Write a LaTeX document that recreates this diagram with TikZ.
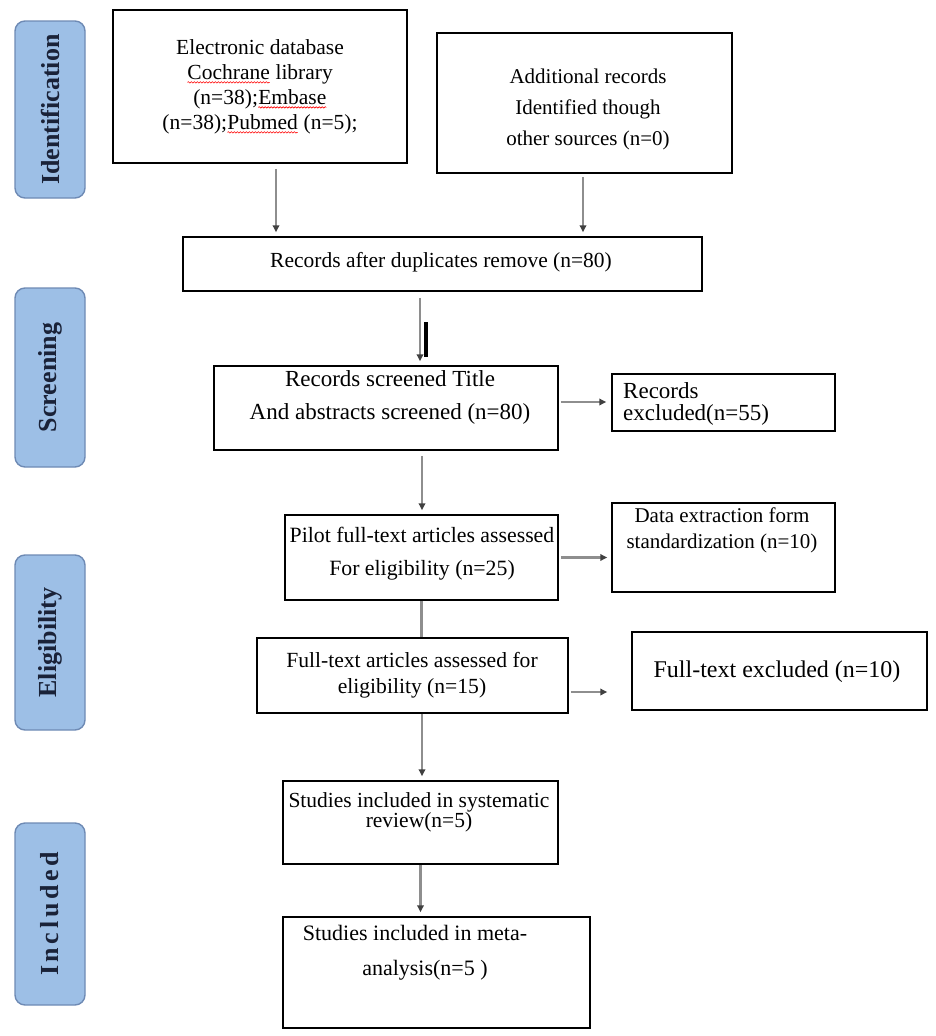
\documentclass[tikz,border=0pt]{standalone}
\usepackage{fontspec}
\setmainfont{Liberation Serif}
\usetikzlibrary{arrows.meta,decorations.pathmorphing}
\definecolor{lblfill}{HTML}{9DBFE6}
\definecolor{lbldraw}{HTML}{6E8AB4}
\definecolor{lbltext}{HTML}{1A2238}
\definecolor{arrgray}{HTML}{8E8E8E}
\newcommand\spellmark[1]{\tikz[baseline=(w.base)]{\node[inner sep=0pt,outer sep=0pt] (w) {#1};
  \draw[red,line width=0.6pt,decorate,decoration={snake,amplitude=0.7pt,segment length=3pt}]
    ([yshift=-2.5pt]w.south west) -- ([yshift=-2.5pt]w.south east);}}
\begin{document}
\begin{tikzpicture}[x=1pt,y=-1pt,
  box/.style={draw=black,line width=1.5pt,inner sep=0pt},
  txt/.style={inner sep=0pt,align=center},
  lbl/.style={draw=lbldraw,fill=lblfill,line width=1.4pt,rounded corners=10pt,
    inner sep=0pt,rotate=90,text=lbltext,font=\bfseries\fontsize{26}{26}\selectfont},
  arr/.style={draw=arrgray,line width=2.1pt,-{Triangle[length=7pt,width=6.5pt,color=black!75]}},
  plainline/.style={draw=arrgray,line width=2.1pt}]
\useasboundingbox (0,0) rectangle (935,1036);

% side labels
\node[lbl,minimum width=177pt,minimum height=70pt] (Lid) at (50,109.5) {Identification};
\node[lbl,minimum width=179pt,minimum height=70pt] (Lsc) at (50,377.5) {Screening};
\node[lbl,minimum width=175pt,minimum height=70pt] (Lel) at (50,642.5) {Eligibility};
\node[lbl,minimum width=182pt,minimum height=70pt] (Lin) at (50,914) {{\addfontfeature{LetterSpace=14}Included}};

% boxes
\node[box,minimum width=294pt,minimum height=153pt] (b1) at (260,86.5) {};
\node[box,minimum width=295pt,minimum height=140pt] (b2) at (584.5,103) {};
\node[box,minimum width=519pt,minimum height=54pt] (rec) at (442.5,264) {};
\node[box,minimum width=344pt,minimum height=84pt] (scr) at (386,408) {};
\node[box,minimum width=223pt,minimum height=57pt] (rex) at (723.5,402.5) {};
\node[box,minimum width=273pt,minimum height=85pt] (pil) at (421.5,557.5) {};
\node[box,minimum width=223pt,minimum height=89pt] (dex) at (723.5,547.5) {};
\node[box,minimum width=311pt,minimum height=75pt] (ft) at (412.5,675.5) {};
\node[box,minimum width=295pt,minimum height=78pt] (fex) at (779.5,671) {};
\node[box,minimum width=275pt,minimum height=83pt] (sys) at (420.5,822.5) {};
\node[box,minimum width=307pt,minimum height=111pt] (meta) at (436.5,972.5) {};

% texts
\node[txt,font=\fontsize{21.5}{25}\selectfont] (t1) at (260,87)
  {Electronic database\\\spellmark{Cochrane} library\\(n=38);\spellmark{Embase}\\(n=38);\spellmark{Pubmed} (n=5);};
\node[txt,font=\fontsize{21}{31}\selectfont] (t2) at (588,109)
  {Additional records\\Identified though\\other sources (n=0)};
\node[txt,font=\fontsize{21.5}{25}\selectfont] (t3) at (441,262)
  {Records after duplicates remove (n=80)};
\node[txt,font=\fontsize{23}{33}\selectfont] (t4) at (390,397)
  {Records screened Title\\And abstracts screened (n=80)};
\node[txt,align=left,anchor=west,font=\fontsize{23}{22}\selectfont] (t5) at (623,404)
  {Records\\excluded(n=55)};
\node[txt,font=\fontsize{21.8}{33}\selectfont] (t6) at (422,553.5)
  {Pilot full-text articles assessed\\For eligibility (n=25)};
\node[txt,font=\fontsize{21}{26}\selectfont] (t7) at (722,530)
  {Data extraction form\\standardization (n=10)};
\node[txt,font=\fontsize{21.6}{26}\selectfont] (t8) at (412,675)
  {Full-text articles assessed for\\eligibility (n=15)};
\node[txt,font=\fontsize{24}{28}\selectfont] (t9) at (777,672)
  {Full-text excluded (n=10)};
\node[txt,font=\fontsize{21.5}{20}\selectfont] (t10) at (419,812)
  {Studies included in systematic\\review(n=5)};
\node[txt,font=\fontsize{22}{26}\selectfont] (t11a) at (415,933)
  {Studies included in meta-};
\node[txt,font=\fontsize{22}{26}\selectfont] (t11b) at (425,970)
  {analysis(n=5 )};

% connectors
\coordinate (p1) at ([xshift=16pt]b1.south);
\draw[arr,shorten <=5pt,shorten >=4pt] (p1) -- (p1 |- rec.north);
\coordinate (p2) at ([xshift=-1.5pt]b2.south);
\draw[arr,shorten <=3pt,shorten >=4pt] (p2) -- (p2 |- rec.north);
\coordinate (p3) at ([xshift=-22.5pt]rec.south);
\draw[arr,shorten <=6pt,shorten >=4pt] (p3) -- (p3 |- scr.north);
\draw[line width=3.5pt,black] (426,322) -- (426,357);
\coordinate (p4) at ([yshift=6pt]scr.east);
\draw[arr,shorten <=2pt,shorten >=5pt] (p4) -- (p4 -| rex.west);
\coordinate (p5) at ([xshift=36pt]scr.south);
\draw[arr,shorten <=5pt,shorten >=4pt] (p5) -- (p5 |- pil.north);
\draw[arr,shorten <=2pt,shorten >=4pt] (pil.east) -- (pil.east -| dex.west);
\draw[plainline] (pil.south) -- (pil.south |- ft.north);
\coordinate (p7) at ([yshift=-16.5pt]ft.east);
\draw[arr,shorten <=2pt,shorten >=24pt] (p7) -- (p7 -| fex.west);
\coordinate (p8) at ([xshift=9.5pt]ft.south);
\draw[arr,shorten >=4pt] (p8) -- (p8 |- sys.north);
\draw[arr,shorten >=4pt] (sys.south) -- (sys.south |- meta.north);
\end{tikzpicture}
\end{document}
